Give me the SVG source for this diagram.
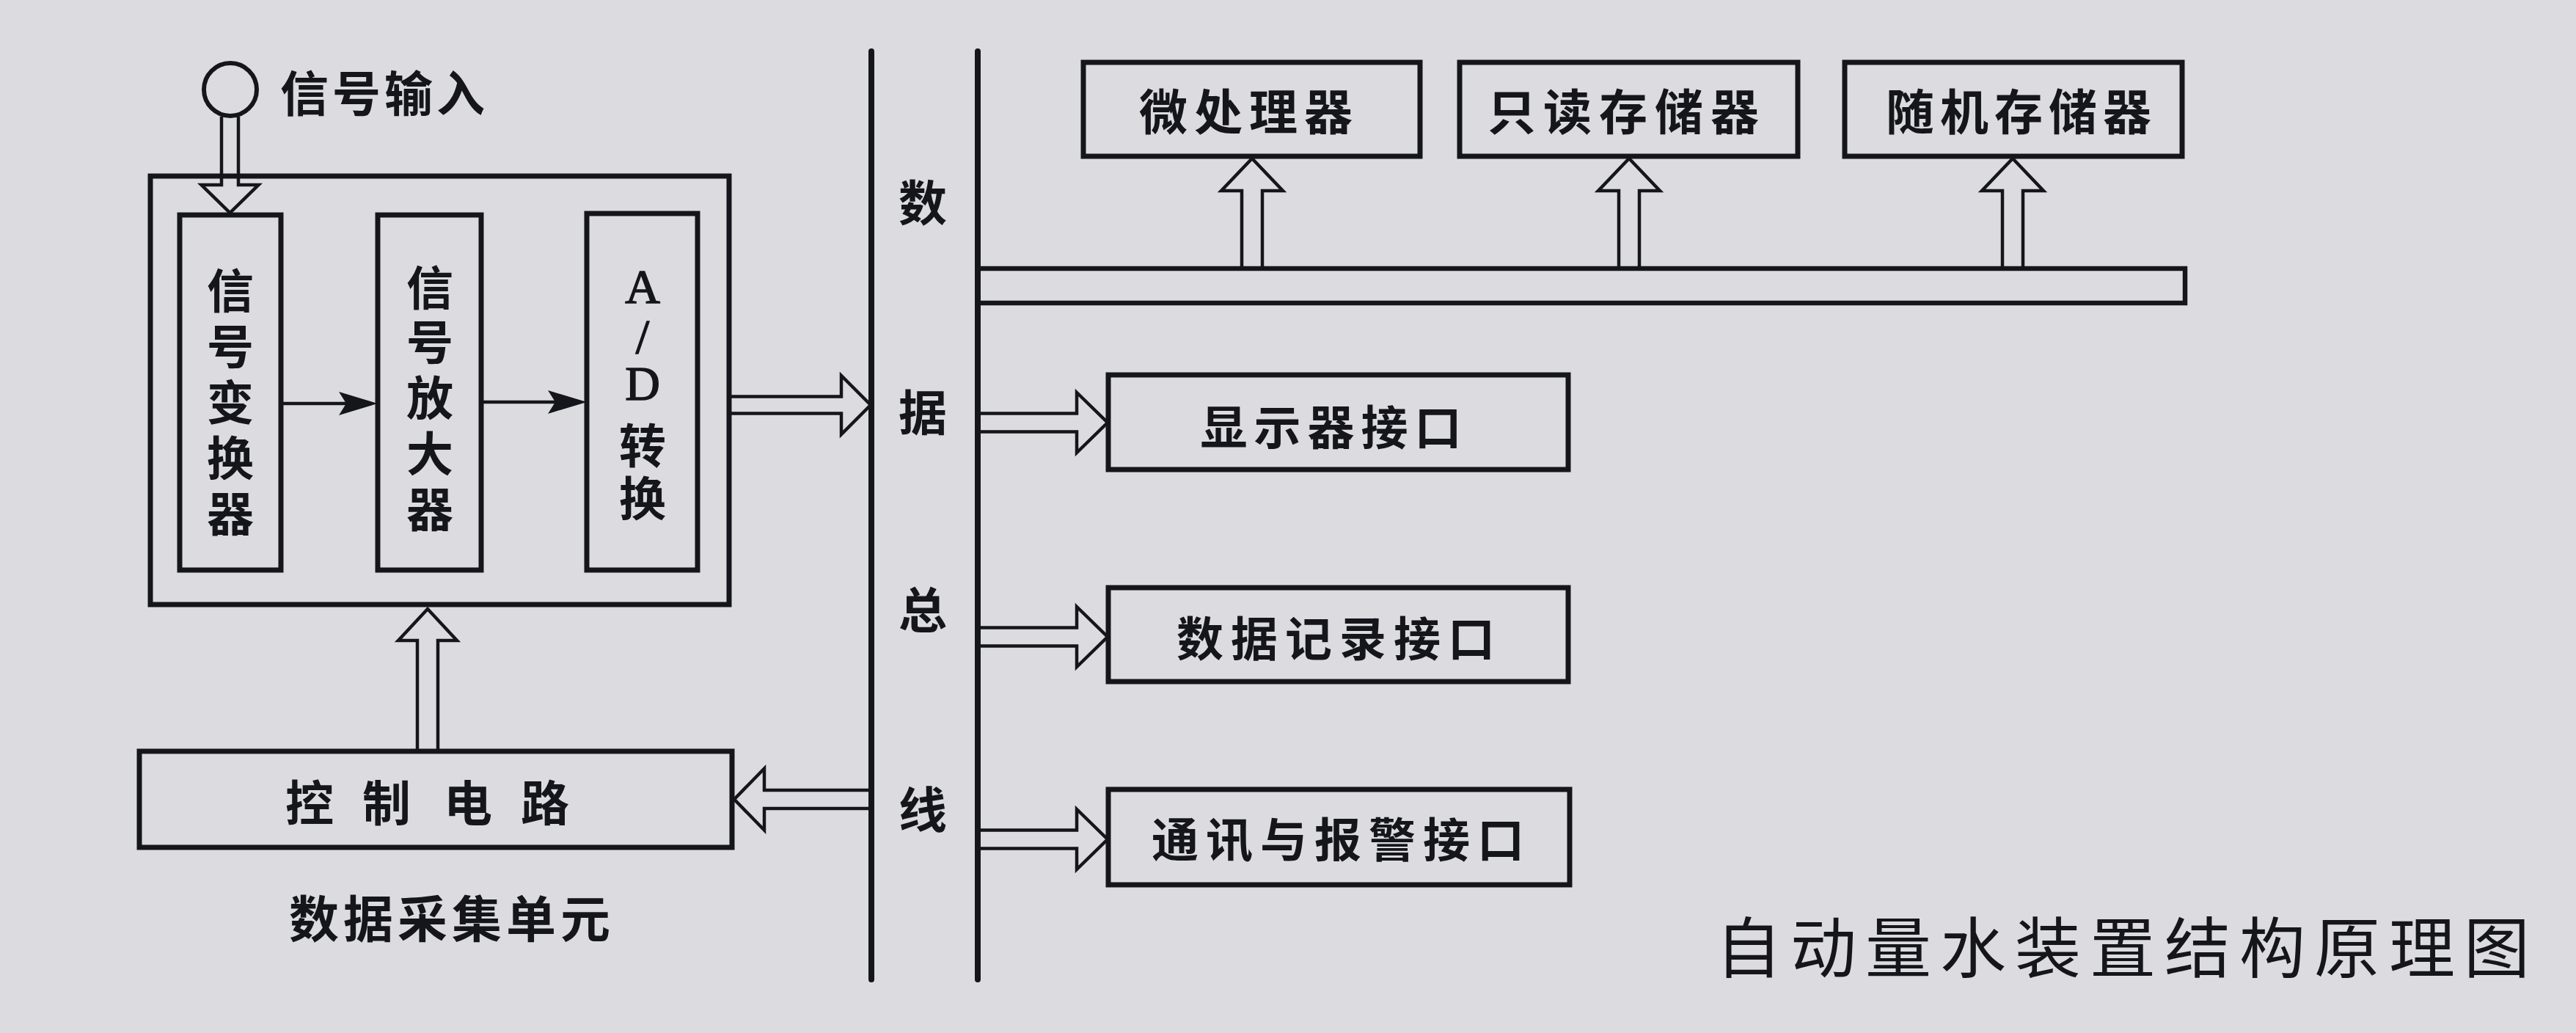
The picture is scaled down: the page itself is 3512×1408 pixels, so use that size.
<svg xmlns="http://www.w3.org/2000/svg" width="3512" height="1408" viewBox="0 0 3512 1408">
<style>
.box{fill:none;stroke:#15151c;stroke-width:7}
.bus{fill:none;stroke:#15151c;stroke-width:8;stroke-linecap:round}
.ha{fill:none;stroke:#15151c;stroke-width:4.5;stroke-linejoin:miter}
.ln{fill:none;stroke:#15151c;stroke-width:4.5}
.ah{fill:#15151c;stroke:none}
.t{font-family:"Noto Sans CJK SC","Noto Sans",sans-serif;font-weight:700;fill:#15151c;dominant-baseline:central;text-anchor:middle}
.s{font-family:"Liberation Serif",serif;font-weight:400;fill:#15151c;stroke:#15151c;stroke-width:1.5;dominant-baseline:central;text-anchor:middle}
.title{font-family:"Noto Sans CJK SC","Noto Sans",sans-serif;font-weight:400;fill:#15151c;dominant-baseline:central;text-anchor:middle}
</style>
<rect x="0" y="0" width="3512" height="1408" fill="#dcdce0"/>

<g id="signal-input">
<circle cx="314" cy="122" r="36" class="box" style="stroke-width:6"/>
<text x="382" y="123" class="t" style="text-anchor:start;font-size:66px;letter-spacing:5px">信号输入</text>
</g>

<g id="acquisition-unit">
<rect x="205" y="240" width="789" height="584" class="box"/>
</g>

<g id="signal-converter">
<rect x="245" y="293" width="138" height="484" class="box"/>
<text class="t" style="font-size:64px" x="314 314 314 314 314" y="392 468 544 620 696">信号变换器</text>
</g>

<g id="signal-amplifier">
<rect x="515" y="293" width="141" height="484" class="box"/>
<text class="t" style="font-size:64px" x="586 586 586 586 586" y="388 462 538 614 690">信号放大器</text>
</g>

<g id="ad-converter">
<rect x="800" y="291" width="151" height="486" class="box"/>
<text class="s" style="font-size:66px" x="876 876 876" y="390 458 522">A/D</text>
<text class="t" style="font-size:64px" x="876 876" y="603 675">转换</text>
</g>

<g id="control-circuit">
<rect x="190" y="1024" width="808" height="131" class="box"/>
<text class="t" style="font-size:66px" x="422 527 638 743" y="1090">控制电路</text>
</g>

<g id="unit-label">
<text x="616" y="1248" class="t" style="font-size:68px;letter-spacing:6px">数据采集单元</text>
</g>

<g id="data-bus">
<line x1="1188" y1="70" x2="1188" y2="1335" class="bus"/>
<line x1="1333" y1="70" x2="1333" y2="1335" class="bus"/>
<path d="M1333,366 H2979 V413 H1333" class="box" style="stroke-width:6.5"/>
<text class="t" style="font-size:66px" x="1258" y="272">数</text>
<text class="t" style="font-size:66px" x="1258" y="558">据</text>
<text class="t" style="font-size:66px" x="1258" y="827">总</text>
<text class="t" style="font-size:66px" x="1258" y="1099">线</text>
</g>

<g id="microprocessor">
<rect x="1477" y="85" width="459" height="128" class="box"/>
<text x="1703" y="148" class="t" style="font-size:66px;letter-spacing:9px">微处理器</text>
</g>

<g id="rom">
<rect x="1990" y="85" width="461" height="128" class="box"/>
<text x="2218" y="148" class="t" style="font-size:66px;letter-spacing:10px">只读存储器</text>
</g>

<g id="ram">
<rect x="2515" y="85" width="460" height="128" class="box"/>
<text x="2756" y="148" class="t" style="font-size:66px;letter-spacing:8px">随机存储器</text>
</g>

<g id="display-interface">
<rect x="1511" y="511" width="627" height="129" class="box"/>
<text x="1819" y="578" class="t" style="font-size:64px;letter-spacing:9px">显示器接口</text>
</g>

<g id="record-interface">
<rect x="1511" y="801" width="627" height="128" class="box"/>
<text x="1826" y="866" class="t" style="font-size:64px;letter-spacing:10px">数据记录接口</text>
</g>

<g id="comm-alarm-interface">
<rect x="1511" y="1076" width="629" height="130" class="box"/>
<text x="1829" y="1140" class="t" style="font-size:64px;letter-spacing:10px">通讯与报警接口</text>
</g>

<g id="caption">
<text x="2900" y="1286" class="title" style="font-size:90px;letter-spacing:12px">自动量水装置结构原理图</text>
</g>

<g id="connectors">
<polyline class="ha" points="302,159 302,252 274.5,252 313.5,290 352.5,252 325,252 325,159"/>
<line class="ln" x1="383" y1="550" x2="472" y2="550"/>
<polygon class="ah" points="515,550 462,534 472,550 462,566"/>
<line class="ln" x1="656" y1="548" x2="757" y2="548"/>
<polygon class="ah" points="800,548 747,532 757,548 747,564"/>
<polyline class="ha" points="994,540.5 1147,540.5 1147,512 1187,552 1147,592 1147,563.5 994,563.5"/>
<polyline class="ha" points="1333,563.5 1468,563.5 1468,535 1510,576 1468,617 1468,588.5 1333,588.5"/>
<polyline class="ha" points="1333,855.5 1468,855.5 1468,827 1510,868 1468,909 1468,880.5 1333,880.5"/>
<polyline class="ha" points="1333,1131.5 1468,1131.5 1468,1103 1510,1144 1468,1185 1468,1156.5 1333,1156.5"/>
<polyline class="ha" points="1188,1077 1042,1077 1042,1047.5 1001,1089.5 1042,1131.5 1042,1102 1188,1102"/>
<polyline class="ha" points="1693,366 1693,260 1665,260 1707,216 1749,260 1721,260 1721,366"/>
<polyline class="ha" points="2207,366 2207,260 2179,260 2221,216 2263,260 2235,260 2235,366"/>
<polyline class="ha" points="2730,366 2730,260 2702,260 2744,216 2786,260 2758,260 2758,366"/>
<polyline class="ha" points="569,1024 569,873 543,873 583,830 623,873 597,873 597,1024"/>
</g>
</svg>
